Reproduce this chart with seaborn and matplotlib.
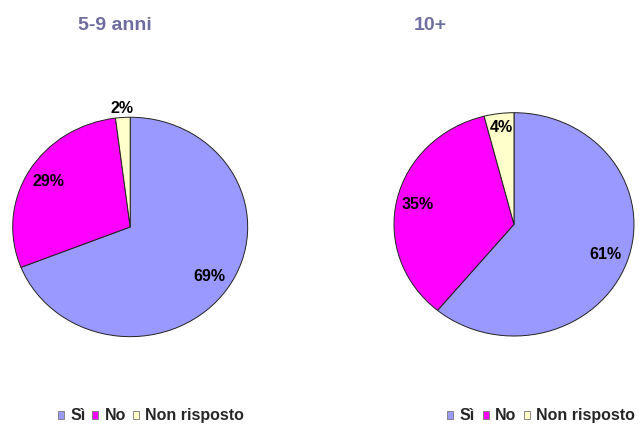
import numpy as np
import matplotlib
matplotlib.use("Agg")
import matplotlib.pyplot as plt
from matplotlib.patches import Patch
import seaborn as sns

# Data
CATEGORIES = ["Sì", "No", "Non risposto"]
TITLES = ["5-9 anni", "10+"]
VALUES_5_9 = [69, 29, 2]
VALUES_10 = [61, 35, 4]
COLORS = ["#9999FF", "#FF00FF", "#FFFFCC"]
TITLE_COLOR = "#6D6D9F"

sns.set_theme(style="white")
plt.rcParams["font.family"] = ["Liberation Sans", "DejaVu Sans"]

fig = plt.figure(figsize=(6.42, 4.24), dpi=100)

# axes rectangles chosen so each pie fills its box (slightly elliptical like the original)
pie_boxes = [
    [0.0198, 0.206, 0.366, 0.5175],
    [0.6137, 0.2075, 0.3738, 0.5267],
]
title_pos = [(115 / 642, 0.940), (430.5 / 642, 0.940)]
legend_pos = [(0.0908, 0.019), (0.6967, 0.019)]
legend_colspacing = [0.42, 0.5]
# label distance per slice, small slice in first pie sits outside
label_dist = [[0.81, 0.81, 1.08], [0.81, 0.82, 0.87]]

for i, values in enumerate([VALUES_5_9, VALUES_10]):
    ax = fig.add_axes(pie_boxes[i])
    wedges, _ = ax.pie(
        values,
        colors=COLORS,
        startangle=90,
        counterclock=False,
        wedgeprops=dict(edgecolor="#222222", linewidth=0.7),
    )
    for w, v, d in zip(wedges, values, label_dist[i]):
        mid = np.deg2rad((w.theta1 + w.theta2) / 2)
        ax.text(d * np.cos(mid), d * np.sin(mid), f"{v}%",
                ha="center", va="center", fontsize=11.5, fontweight="bold",
                color="black", clip_on=False)
    ax.set_aspect("auto")
    ax.set_xlim(-1, 1)
    ax.set_ylim(-1, 1)
    ax.axis("off")

    fig.text(title_pos[i][0], title_pos[i][1], TITLES[i], ha="center", va="center",
             fontsize=14, fontweight="bold", color=TITLE_COLOR)

    handles = [Patch(facecolor=c, edgecolor="#777777", linewidth=0.6) for c in COLORS]
    fig.legend(handles, CATEGORIES, loc="center left", bbox_to_anchor=legend_pos[i],
               ncol=3, frameon=False, borderpad=0, borderaxespad=0,
               handlelength=0.38, handleheight=0.38, handletextpad=0.38,
               columnspacing=legend_colspacing[i],
               prop=dict(size=11.5, weight="bold"))

fig.savefig("out.png", dpi=100)
